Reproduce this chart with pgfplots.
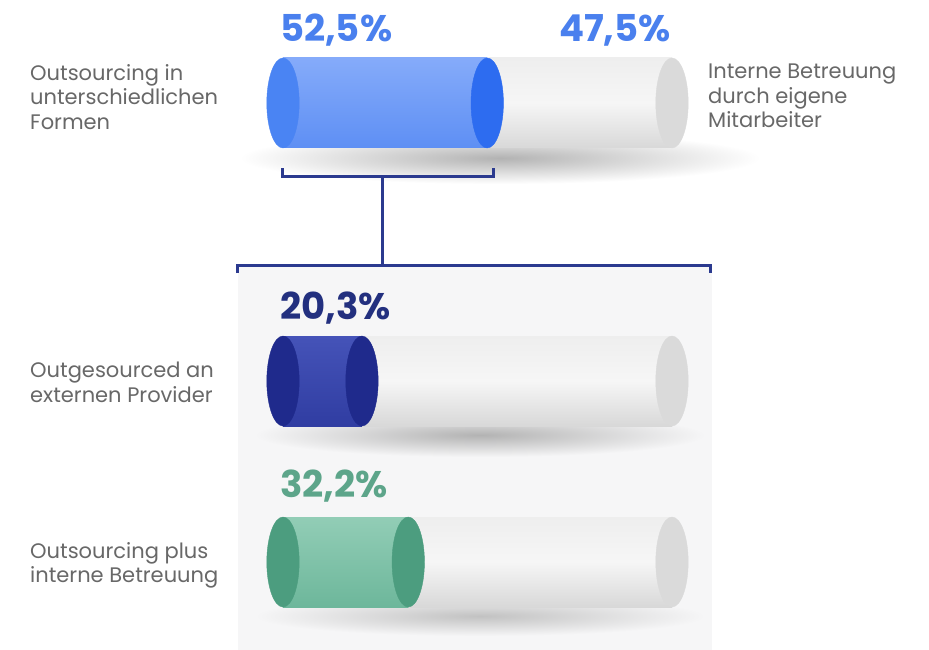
\documentclass[border=0pt]{standalone}
\usepackage{pgfplots}
\pgfplotsset{compat=1.18}
\usepackage{fontspec}
\setmainfont{Poppins}
\definecolor{blueBodyT}{HTML}{85ABFA}
\definecolor{blueBodyB}{HTML}{5E8FF4}
\definecolor{blueCapL}{HTML}{4A84F3}
\definecolor{blueCapR}{HTML}{2D6CF0}
\definecolor{blueTxt}{HTML}{4A80EE}
\definecolor{navyBodyT}{HTML}{4553B8}
\definecolor{navyBodyB}{HTML}{303DA2}
\definecolor{navyCap}{HTML}{1F2A8C}
\definecolor{navyTxt}{HTML}{23307F}
\definecolor{greenBodyT}{HTML}{92CDB6}
\definecolor{greenBodyB}{HTML}{6DB79B}
\definecolor{greenCap}{HTML}{4C9D7F}
\definecolor{greenTxt}{HTML}{5DA58A}
\definecolor{grayBodyT}{HTML}{EEEEEE}
\definecolor{grayBodyM}{HTML}{F6F6F6}
\definecolor{grayBodyB}{HTML}{D8D8D8}
\definecolor{grayCap}{HTML}{DADADA}
\definecolor{labelGray}{HTML}{686868}
\definecolor{bracket}{HTML}{2B3A8F}
\definecolor{panel}{HTML}{F6F6F7}
\pgfplotsset{
  cap/.style={#1, only marks, mark=*, mark size=45pt, mark options={xscale=0.36, draw=none, fill=#1}},
  body/.style={xbar, bar width=90, draw=none},
}
\tikzset{
  lbl/.style={anchor=north west, align=left, inner sep=0, font=\fontsize{21}{24.5}\selectfont, text=labelGray},
  pct/.style={inner sep=0, font=\fontsize{37}{37}\selectfont\bfseries},
}
\begin{document}
\begin{tikzpicture}
\begin{axis}[
  width=929pt, height=650pt, scale only axis,
  xmin=-72.75, xmax=166.07, ymin=0, ymax=650, y dir=reverse,
  hide axis, clip=false,
]
% background and panel
\fill[white] (axis cs:-72.75,0) rectangle (axis cs:166.07,650);
\fill[panel] (axis cs:{(238-283)/3.89},265) rectangle (axis cs:{(712-283)/3.89},650);
% shadows
\shade[inner color=black!30, outer color=white] (axis cs:{(500-283)/3.89},158) ellipse [x radius=260pt, y radius=26pt];
\shade[inner color=black!30, outer color=panel] (axis cs:{(480-283)/3.89},435) ellipse [x radius=225pt, y radius=22pt];
\shade[inner color=black!24, outer color=panel] (axis cs:{(480-283)/3.89},616) ellipse [x radius=225pt, y radius=20pt];
% gray full cylinders (100 %)
\addplot[body, top color=grayBodyT, bottom color=grayBodyB, middle color=grayBodyM] coordinates {(100,103)};
\addplot[body, top color=grayBodyT, bottom color=grayBodyB, middle color=grayBodyM] coordinates {(100,381)};
\addplot[body, top color=grayBodyT, bottom color=grayBodyB, middle color=grayBodyM] coordinates {(100,562)};
\addplot[cap=grayCap] coordinates {(100,103) (100,381) (100,562)};
% coloured parts
\addplot[body, top color=blueBodyT, bottom color=blueBodyB] coordinates {(52.5,103)};
\addplot[cap=blueCapL] coordinates {(0,103)};
\addplot[cap=blueCapR] coordinates {(52.5,103)};
\addplot[body, top color=navyBodyT, bottom color=navyBodyB] coordinates {(20.3,381)};
\addplot[cap=navyCap] coordinates {(0,381) (20.3,381)};
\addplot[body, top color=greenBodyT, bottom color=greenBodyB] coordinates {(32.2,562)};
\addplot[cap=greenCap] coordinates {(0,562) (32.2,562)};
% brackets
\addplot[bracket, line width=3pt] coordinates {(0,168) (0,176) (54,176) (54,168)};
\addplot[bracket, line width=3pt] coordinates {(25.7,176) (25.7,265)};
\addplot[bracket, line width=3pt] coordinates {(-11.57,273) (-11.57,265) (109.8,265) (109.8,273)};
% percentages
\node[pct, anchor=base west, text=blueTxt] at (axis cs:{(280-283)/3.89},42) {52,5\%};
\node[pct, anchor=base east, text=blueTxt] at (axis cs:{(671-283)/3.89},42) {47,5\%};
\node[pct, anchor=base west, text=navyTxt] at (axis cs:{(280-283)/3.89},319) {20,3\%};
\node[pct, anchor=base west, text=greenTxt] at (axis cs:{(280-283)/3.89},497) {32,2\%};
% labels
\node[lbl] at (axis cs:{(30-283)/3.89},64) {Outsourcing in\\unterschiedlichen\\Formen};
\node[lbl] at (axis cs:{(708-283)/3.89},64) {Interne Betreuung\\durch eigene\\Mitarbeiter};
\node[lbl] at (axis cs:{(30-283)/3.89},362) {Outgesourced an\\externen Provider};
\node[lbl] at (axis cs:{(30-283)/3.89},542) {Outsourcing plus\\interne Betreuung};
\end{axis}
\end{tikzpicture}
\end{document}
